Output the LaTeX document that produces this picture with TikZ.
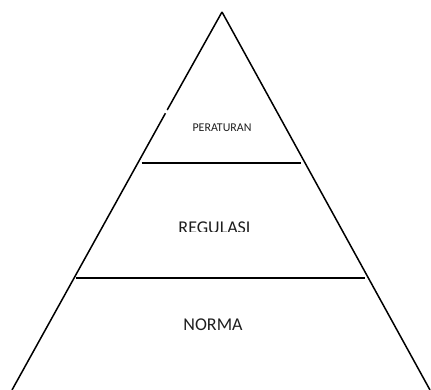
\documentclass[tikz,border=0pt]{standalone}
\usepackage{fontspec}
\setmainfont{Carlito}
\usetikzlibrary{calc,positioning}

\begin{document}
\begin{tikzpicture}[
    x=1pt, y=-1pt,
    font=\normalsize,
]

\definecolor{lineCol}{RGB}{0, 0, 0}
\definecolor{textCol}{RGB}{30, 30, 30}

\tikzset{
    side_line/.style = {draw=lineCol, line width=1.5pt},
    level_line/.style = {draw=lineCol, line width=2pt},
    level_label/.style = {text=textCol, inner sep=0pt, font=\fontsize{18}{20}\selectfont},
    top_label/.style = {text=textCol, inner sep=0pt, font=\fontsize{11.9}{13}\selectfont}
}

\useasboundingbox (0, 0) rectangle (431, 390);

% =========== PYRAMID OUTLINE ===========
\coordinate (apex) at (222, 12);
\coordinate (base_l) at (12, 390);
\coordinate (base_r) at (430, 390);
\coordinate (gap_top) at (167.2, 110);
\coordinate (gap_bot) at (165.4, 113.3);

\draw[side_line] (apex) -- (gap_top);
\draw[side_line] (gap_bot) -- (base_l);
\draw[side_line] (apex) -- (base_r);

% =========== LEVEL LINES ===========
\coordinate (l1_a) at (141.5, 163);
\coordinate (l1_b) at (300.5, 163);
\coordinate (l2_a) at (76, 277.5);
\coordinate (l2_b) at (365, 277.5);

\draw[level_line] (l1_a) -- (l1_b);
\draw[level_line] (l2_a) -- (l2_b);

% =========== LABELS ===========
\node[top_label] (peraturan) at (222, 128) {PERATURAN};

\begin{scope}
\clip (100, 200) rectangle (330, 232);
\node[level_label] (regulasi) at (214.5, 228) {REGULASI};
\end{scope}

\node[level_label] (norma) at (213, 325) {NORMA};

\end{tikzpicture}
\end{document}
